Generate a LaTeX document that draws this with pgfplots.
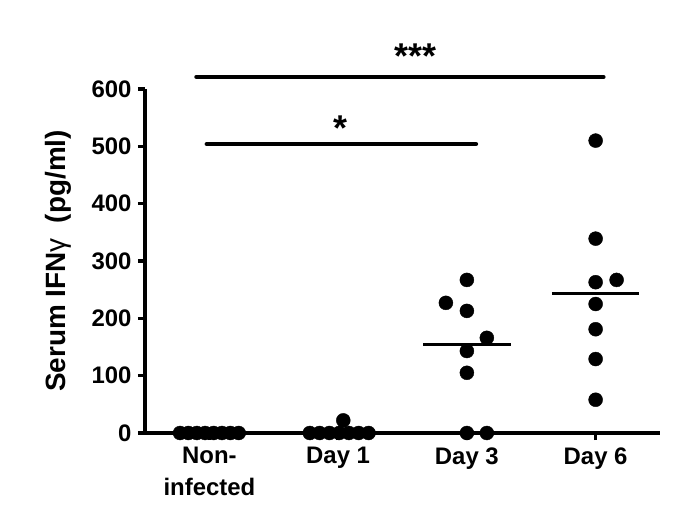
\documentclass[border=0pt]{standalone}
\usepackage{fontspec}
\setmainfont{Liberation Sans}
\usepackage{pgfplots}
\pgfplotsset{compat=1.18}
\newcommand{\tickfont}{\fontsize{24}{32}\selectfont\bfseries}
\newcommand{\labfont}{\fontsize{28}{30}\selectfont\bfseries}
\begin{document}
\begin{tikzpicture}[font=\tickfont]
\path[use as bounding box] (0,0) rectangle (685bp,513bp);
\begin{axis}[
  at={(145bp,80bp)}, anchor=south west,
  scale only axis, width=515bp, height=344bp,
  xmin=-0.5, xmax=3.5, ymin=0, ymax=600,
  axis lines*=left,
  axis line style={line width=3.3bp, black},
  every tick/.style={line width=3.3bp, black},
  major tick length=7bp, tick align=outside,
  xtick={0,1,2,3},
  xticklabels={{Non-\\infected},{Day 1},{Day 3},{Day 6}},
  tick label style={font=\tickfont},
  xticklabel style={align=center, yshift=-4bp},
  yticklabel style={xshift=-3bp},
  ytick={0,100,200,300,400,500,600},
  /pgf/number format/assume math mode=true,
  ylabel={Serum IFN{\mdseries γ}\ \ (pg/ml)},
  ylabel style={font=\labfont, at={(axis description cs:-0.169,0.5)}, anchor=center},
  clip=false,
]
% Non-infected
\addplot[only marks, mark=*, mark size=7bp, black] coordinates {
(-0.228,0) (-0.163,0) (-0.098,0) (-0.033,0) (0.033,0) (0.098,0) (0.163,0) (0.228,0)};
% Day 1
\addplot[only marks, mark=*, mark size=7bp, black] coordinates {
(0.78,0) (0.856,0) (0.932,0) (1.008,0) (1.084,0) (1.16,0) (1.236,0) (1.04,22)};
% Day 3
\addplot[only marks, mark=*, mark size=7bp, black] coordinates {
(2,267) (1.837,227) (2,213) (2.155,166) (2,143) (2,105) (2,0) (2.155,0)};
% Day 6
\addplot[only marks, mark=*, mark size=7bp, black] coordinates {
(3,510) (3,339) (3,263) (3.163,267) (3,225) (3,181) (3,129) (3,58)};
% medians
\addplot[line width=3bp, black] coordinates {(1.66,154) (2.34,154)};
\addplot[line width=3bp, black] coordinates {(2.66,244) (3.34,244)};
% significance bars
\addplot[line width=4.5bp, black, line cap=round] coordinates {(-0.10,621) (3.06,621)};
\addplot[line width=4.5bp, black, line cap=round] coordinates {(-0.02,504) (2.07,504)};
\node[font=\fontsize{36}{36}\selectfont\bfseries, inner sep=0pt] at (axis cs:1.015,532) {*};
\node[font=\fontsize{36}{36}\selectfont\bfseries, inner sep=0pt] at (axis cs:1.6,658) {***};
\end{axis}
\end{tikzpicture}
\end{document}
